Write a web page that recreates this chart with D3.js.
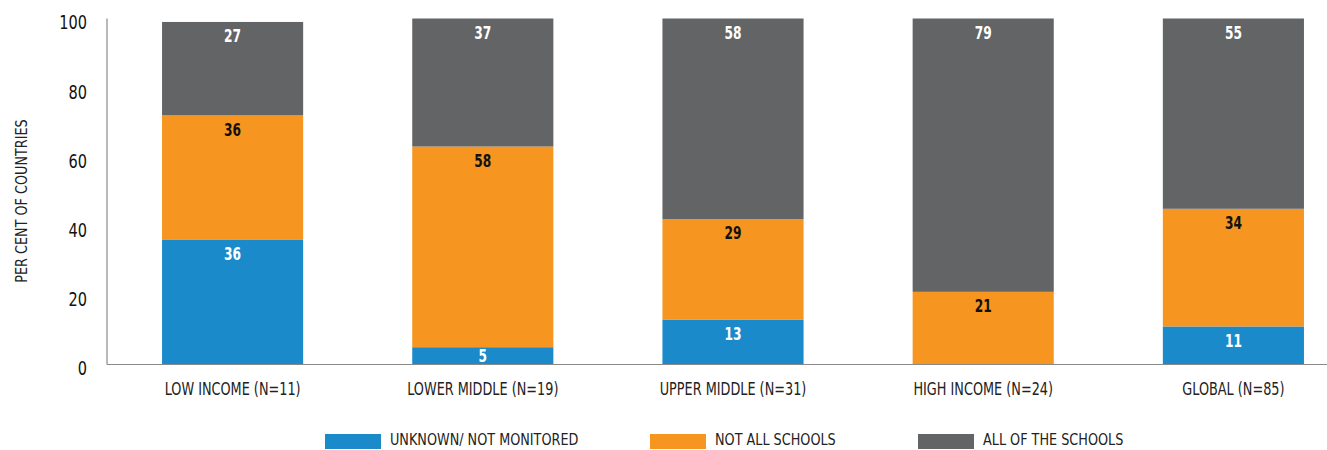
<!DOCTYPE html>
<html>
<head>
<meta charset="utf-8">
<script src="https://cdn.jsdelivr.net/npm/d3@7"></script>
<style>
  body { margin: 0; background: #fff; }
  svg text { font-family: "Liberation Sans Narrow", "DejaVu Sans Condensed", "Arial Narrow", sans-serif; }
</style>
</head>
<body>
<script>
// data
var categories = ["LOW INCOME (N=11)", "LOWER MIDDLE (N=19)", "UPPER MIDDLE (N=31)", "HIGH INCOME (N=24)", "GLOBAL (N=85)"];
var unknown   = [36, 5, 13, 0, 11];
var notAll    = [36, 58, 29, 21, 34];
var allSchools = [27, 37, 58, 79, 55];
var seriesNames = ["UNKNOWN/ NOT MONITORED", "NOT ALL SCHOOLS", "ALL OF THE SCHOOLS"];
var colors = ["#1a8acb", "#f6951f", "#636466"];
var labelColors = ["#fff", "#111", "#fff"];
var yTicks = [0, 20, 40, 60, 80, 100];

var width = 1327, height = 450;
var x0 = 107, yBase = 364.5, yTop = 18.5;
var squeeze = 0.84; // horizontal squeeze to mimic a condensed face

var svg = d3.select("body").append("svg")
    .attr("width", width)
    .attr("height", height);

// scales
var x = d3.scaleBand()
    .domain(categories)
    .range([x0, 1359])
    .paddingInner(0.436)
    .paddingOuter(0.22);

var y = d3.scaleLinear()
    .domain([0, 100])
    .range([yBase, yTop]);

// stack the series
var rows = categories.map(function(c, i) {
  return {cat: c, s0: unknown[i], s1: notAll[i], s2: allSchools[i]};
});
var stack = d3.stack().keys(["s0", "s1", "s2"]);
var layers = stack(rows);

var layer = svg.selectAll(".layer")
    .data(layers)
  .enter().append("g")
    .attr("class", "layer")
    .attr("fill", function(d, i) { return colors[i]; });

layer.selectAll("rect")
    .data(function(d) { return d.filter(function(p) { return p[1] - p[0] > 0; }); })
  .enter().append("rect")
    .attr("x", function(d) { return x(d.data.cat); })
    .attr("width", x.bandwidth())
    .attr("y", function(d) { return y(d[1]); })
    .attr("height", function(d) { return y(d[0]) - y(d[1]); });

// value labels
layers.forEach(function(l, li) {
  svg.append("g").selectAll("text")
      .data(l.filter(function(p) { return p[1] - p[0] > 0; }))
    .enter().append("text")
      .attr("transform", function(d) {
        var h = y(d[0]) - y(d[1]);
        var cx = x(d.data.cat) + x.bandwidth() / 2;
        var cy = y(d[1]) + Math.min(14, h / 2);
        return "translate(" + cx + "," + cy + ") scale(0.8,1)";
      })
      .attr("dy", "0.36em")
      .attr("text-anchor", "middle")
      .style("font-size", "17px")
      .style("font-weight", "bold")
      .style("fill", labelColors[li])
      .text(function(d) { return d[1] - d[0]; });
});

// axes lines
svg.append("line")
    .attr("x1", x0).attr("x2", x0)
    .attr("y1", y(100)).attr("y2", yBase)
    .style("stroke", "#8a8a8a").style("stroke-width", 1.2);
svg.append("line")
    .attr("x1", x0).attr("x2", width)
    .attr("y1", yBase).attr("y2", yBase)
    .style("stroke", "#8a8a8a").style("stroke-width", 1.2);

// y tick labels
svg.append("g").selectAll("text")
    .data(yTicks)
  .enter().append("text")
    .attr("transform", function(d) { return "translate(87," + (y(d) + 4) + ") scale(0.85,1)"; })
    .attr("dy", "0.36em")
    .attr("text-anchor", "end")
    .style("font-size", "19px")
    .style("fill", "#111")
    .text(function(d) { return d; });

// y title
svg.append("text")
    .attr("transform", "translate(27,201) rotate(-90) scale(0.95,1)")
    .attr("text-anchor", "middle")
    .style("font-size", "15px")
    .style("fill", "#222")
    .text("PER CENT OF COUNTRIES");

// category labels
svg.append("g").selectAll("text")
    .data(categories)
  .enter().append("text")
    .attr("transform", function(d) {
      return "translate(" + (x(d) + x.bandwidth() / 2) + ",389) scale(" + squeeze + ",1)";
    })
    .attr("dy", "0.36em")
    .attr("text-anchor", "middle")
    .style("font-size", "17px")
    .style("fill", "#222")
    .text(function(d) { return d; });

// legend
var legendX = [325, 650, 918];
var legend = svg.append("g").selectAll("g")
    .data(seriesNames)
  .enter().append("g")
    .attr("transform", function(d, i) { return "translate(" + legendX[i] + ",434)"; });
legend.append("rect")
    .attr("width", 56)
    .attr("height", 15)
    .attr("fill", function(d, i) { return colors[i]; });
legend.append("text")
    .attr("transform", "translate(65,6) scale(0.95,1)")
    .attr("dy", "0.36em")
    .style("font-size", "15px")
    .style("fill", "#222")
    .text(function(d) { return d; });
</script>
</body>
</html>
